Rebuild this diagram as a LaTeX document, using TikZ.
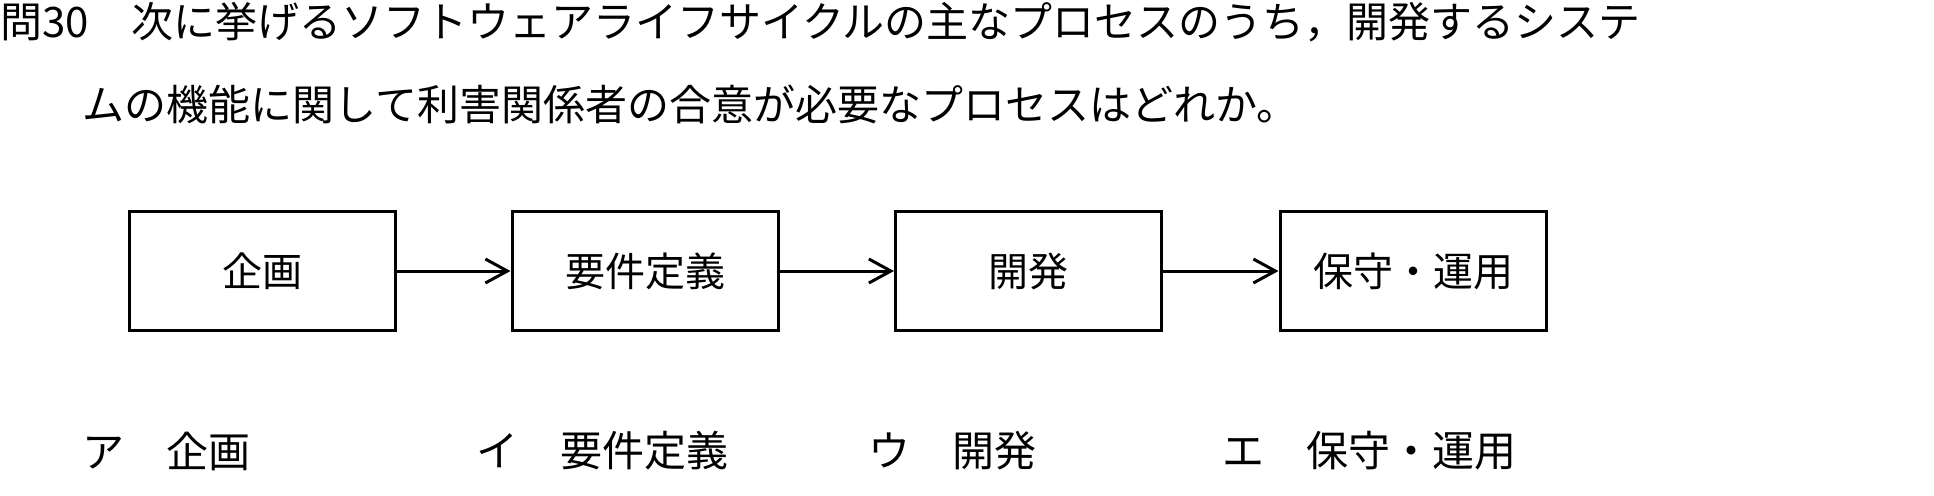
\documentclass[tikz,border=0pt]{standalone}
\usepackage{fontspec}
\setmainfont{Noto Sans CJK JP}
\usetikzlibrary{arrows.meta}
\tikzset{
	stage/.style={draw, line width=1.5pt, minimum width=133pt, minimum height=59.5pt, inner sep=0pt, font=\fontsize{20pt}{24pt}\selectfont},
	txt/.style={anchor=west, inner sep=0pt, font=\fontsize{21pt}{25pt}\selectfont},
}
\begin{document}
\begin{tikzpicture}[x=0.5pt, y=-0.5pt]
				\useasboundingbox (0,0) rectangle (1934,495);
				\node[txt] (Q1) at (0,22)   {問30　次に挙げるソフトウェアライフサイクルの主なプロセスのうち，開発するシステ};
				\node[txt] (Q2) at (82,104) {ムの機能に関して利害関係者の合意が必要なプロセスはどれか。};

				\node[stage] (A) at (262,271)    {企画};
				\node[stage] (B) at (645,271)    {要件定義};
				\node[stage] (C) at (1028.5,271) {開発};
				\node[stage] (D) at (1413,271)   {保守・運用};

				\path [-{Straight Barb[length=11pt,width=12pt]}, line width=1.5pt] (A) edge (B);
				\path [-{Straight Barb[length=11pt,width=12pt]}, line width=1.5pt] (B) edge (C);
				\path [-{Straight Barb[length=11pt,width=12pt]}, line width=1.5pt] (C) edge (D);

				\node[txt] (oa) at (82,451)   {ア　企画};
				\node[txt] (oi) at (476,451)  {イ　要件定義};
				\node[txt] (ou) at (868,451)  {ウ　開発};
				\node[txt] (oe) at (1222,451) {エ　保守・運用};
			\end{tikzpicture}
\end{document}
